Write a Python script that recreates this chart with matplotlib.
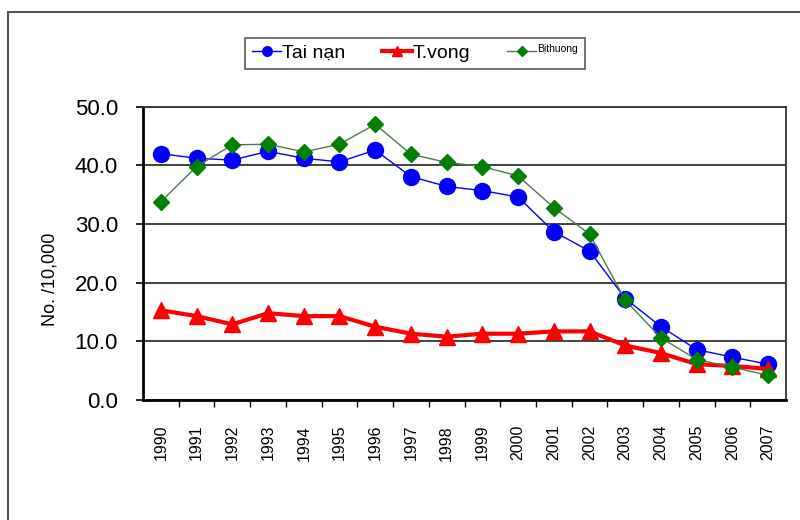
import matplotlib.pyplot as plt
import matplotlib.transforms as mtransforms
from matplotlib.patches import Rectangle

plt.rcParams['font.family'] = ['Liberation Sans', 'DejaVu Sans']

years = list(range(1990, 2008))
tai_nan = [42.0, 41.2, 40.9, 42.4, 41.2, 40.6, 42.6, 38.1, 36.4, 35.7,
           34.6, 28.7, 25.4, 17.3, 12.5, 8.6, 7.3, 6.1]
tu_vong = [15.3, 14.3, 12.9, 14.8, 14.3, 14.3, 12.5, 11.3, 10.8, 11.3,
           11.3, 11.7, 11.7, 9.3, 8.0, 6.1, 5.8, 5.3]
bi_thuong = [33.8, 39.8, 43.5, 43.6, 42.3, 43.6, 47.0, 41.9, 40.5, 39.8,
             38.2, 32.8, 28.3, 17.0, 10.6, 6.9, 5.6, 4.2]
y_ticks = [0, 10, 20, 30, 40, 50]

fig = plt.figure(figsize=(8, 5.2), dpi=100)
# outer chart frame
fig.patches.append(Rectangle((8 / 800, -0.1), 1.2, 1 - 12 / 520 + 0.1,
                             transform=fig.transFigure, fill=False,
                             edgecolor='#555555', linewidth=1.5))

ax = fig.add_axes([143 / 800, 1 - 400 / 520, (786 - 143) / 800, (400 - 106.7) / 520])
x = list(range(len(years)))

ax.plot(x, tai_nan, color='#0000ff', lw=1, marker='o', ms=11.5,
        label='Tai nạn', zorder=3)
ax.plot(x, tu_vong, color='#ff0000', lw=3, marker='^', ms=11,
        label='T.vong', zorder=4)
ax.plot(x, bi_thuong, color='#4d7a4d', lw=1, marker='D', ms=8,
        markerfacecolor='#008000', markeredgecolor='#008000',
        label='Bịthuong', zorder=5)

ax.set_xlim(-0.5, len(years) - 0.5)
ax.set_ylim(0, 50)
ax.set_yticks(y_ticks)
ax.set_yticklabels([f'{v:.1f}' for v in y_ticks], fontsize=16)
ax.yaxis.grid(True, color='#333333', lw=1.3)
ax.set_axisbelow(True)

ax.set_xticks(x)
ax.set_xticklabels([str(y) for y in years], rotation=90, fontsize=11.5)
ax.set_xticks([i + 0.5 for i in x[:-1]], minor=True)
ax.tick_params(axis='x', which='major', length=0, pad=18)
ax.tick_params(axis='x', which='minor', length=5, width=1, direction='out')
ax.tick_params(axis='y', length=5, width=1.2, direction='out', pad=13)

ax.set_ylabel('No. /10,000', fontsize=13)
ax.yaxis.set_label_coords(-0.132, 0.41)

for side in ['left', 'bottom']:
    ax.spines[side].set_linewidth(2)
    ax.spines[side].set_color('black')
for side in ['right', 'top']:
    ax.spines[side].set_color('#333333')
    ax.spines[side].set_linewidth(1.3)

leg = fig.legend(loc='center', bbox_to_anchor=(415 / 800, 1 - 53.5 / 520),
                 ncol=3, fontsize=14, frameon=True, fancybox=False,
                 edgecolor='#333333', handlelength=1.5, columnspacing=1.9,
                 markerscale=0.6, borderpad=0.35, handletextpad=0.05)
leg.get_frame().set_linewidth(1.2)
# third label is small and raised
small = leg.get_texts()[2]
small.set_fontsize(7.5)
small.set_verticalalignment('bottom')
small.set_transform(small.get_transform() +
                    mtransforms.ScaledTranslation(0, 4 / 100, fig.dpi_scale_trans))

fig.savefig('out.png', dpi=100)
